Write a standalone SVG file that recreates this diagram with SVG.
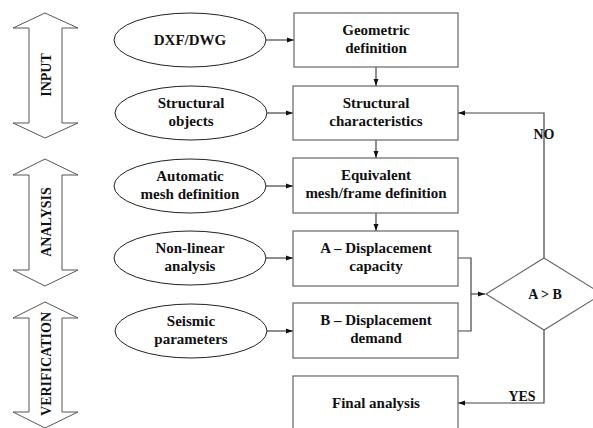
<svg xmlns="http://www.w3.org/2000/svg" width="593" height="428" viewBox="0 0 593 428">
<defs>
<style>
text{font-family:'Liberation Serif','Times New Roman','DejaVu Serif',serif;font-weight:bold;fill:#111;text-anchor:middle}
.t{font-size:15px}
.s{font-size:14px}
.box{fill:#fff;stroke:#666;stroke-width:1.2}
.ell{fill:#fff;stroke:#222;stroke-width:1}
.dbl{fill:#fff;stroke:#555;stroke-width:1}
.ln{fill:none;stroke:#444;stroke-width:1.2}
</style>
<marker id="ah" viewBox="0 0 10 10" refX="10" refY="5" markerWidth="7" markerHeight="7" markerUnits="userSpaceOnUse" orient="auto">
<path d="M0,1.5 L10,5 L0,8.5 z" fill="#111"/>
</marker>
</defs>
<rect width="593" height="428" fill="#fff"/>
<g font-family="Liberation Serif, Times New Roman, DejaVu Serif, serif" font-weight="bold">
<g id="stage-input">
<path class="dbl" d="M45,13 L78,28 L62,28 L62,123 L78,123 L45,138 L13,123 L29,123 L29,28 L13,28 z"/>
<text class="s" transform="translate(51,75) rotate(-90)">INPUT</text>
</g>
<g id="stage-analysis">
<path class="dbl" d="M45,159 L78,175 L62,175 L62,270 L78,270 L45,286 L13,270 L29,270 L29,175 L13,175 z"/>
<text class="s" transform="translate(51,222) rotate(-90)">ANALYSIS</text>
</g>
<g id="stage-verification">
<path class="dbl" d="M45,302 L78,318 L62,318 L62,412 L78,412 L45,428 L13,412 L29,412 L29,318 L13,318 z"/>
<text class="s" transform="translate(51,364) rotate(-90)">VERIFICATION</text>
</g>

<g id="connectors">
<line class="ln" x1="266" y1="40" x2="294" y2="40" marker-end="url(#ah)"/>
<line class="ln" x1="267" y1="113" x2="293" y2="113" marker-end="url(#ah)"/>
<line class="ln" x1="266" y1="186" x2="293" y2="186" marker-end="url(#ah)"/>
<line class="ln" x1="266" y1="258" x2="293" y2="258" marker-end="url(#ah)"/>
<line class="ln" x1="266" y1="331" x2="293" y2="331" marker-end="url(#ah)"/>
<line class="ln" x1="376" y1="67" x2="376" y2="86" marker-end="url(#ah)"/>
<line class="ln" x1="376" y1="140" x2="376" y2="158" marker-end="url(#ah)"/>
<line class="ln" x1="376" y1="213" x2="376" y2="231" marker-end="url(#ah)"/>
<polyline class="ln" points="458,258 471,258 471,331 458,331"/>
<line class="ln" x1="471" y1="294" x2="485" y2="294" marker-end="url(#ah)"/>
<polyline class="ln" points="544,258 544,113 458,113" marker-end="url(#ah)"/>
<polyline class="ln" points="544,330 544,403 458,403" marker-end="url(#ah)"/>
<text class="s" x="544" y="139">NO</text>
<text class="s" x="522" y="401">YES</text>
</g>

<g id="dxf">
<ellipse class="ell" cx="190" cy="40" rx="76" ry="27"/>
<text class="t" x="190" y="45">DXF/DWG</text>
</g>
<g id="structural-objects">
<ellipse class="ell" cx="191" cy="113" rx="76" ry="27"/>
<text class="t" x="191" y="108">Structural</text>
<text class="t" x="191" y="126">objects</text>
</g>
<g id="automatic-mesh">
<ellipse class="ell" cx="190" cy="186" rx="76" ry="27"/>
<text class="t" x="190" y="181">Automatic</text>
<text class="t" x="190" y="199">mesh definition</text>
</g>
<g id="nonlinear">
<ellipse class="ell" cx="190" cy="258" rx="76" ry="27"/>
<text class="t" x="190" y="253">Non-linear</text>
<text class="t" x="190" y="271">analysis</text>
</g>
<g id="seismic">
<ellipse class="ell" cx="191" cy="331" rx="76" ry="27"/>
<text class="t" x="191" y="326">Seismic</text>
<text class="t" x="191" y="344">parameters</text>
</g>

<g id="geometric">
<rect class="box" x="294" y="13" width="164" height="54"/>
<text class="t" x="376" y="35">Geometric</text>
<text class="t" x="376" y="53">definition</text>
</g>
<g id="structural-char">
<rect class="box" x="293" y="86" width="165" height="54"/>
<text class="t" x="376" y="108">Structural</text>
<text class="t" x="376" y="126">characteristics</text>
</g>
<g id="equivalent">
<rect class="box" x="293" y="158" width="165" height="55"/>
<text class="t" x="376" y="180">Equivalent</text>
<text class="t" x="376" y="198">mesh/frame definition</text>
</g>
<g id="capacity">
<rect class="box" x="293" y="231" width="165" height="55"/>
<text class="t" x="376" y="253">A – Displacement</text>
<text class="t" x="376" y="271">capacity</text>
</g>
<g id="demand">
<rect class="box" x="293" y="303" width="165" height="55"/>
<text class="t" x="376" y="325">B – Displacement</text>
<text class="t" x="376" y="343">demand</text>
</g>
<g id="final">
<rect class="box" x="293" y="376" width="165" height="60"/>
<text class="t" x="376" y="408">Final analysis</text>
</g>
<g id="decision">
<path class="box" d="M544,258 L602,294 L544,330 L486,294 z"/>
<text class="s" x="545" y="299">A &gt; B</text>
</g>
</g>
</svg>
